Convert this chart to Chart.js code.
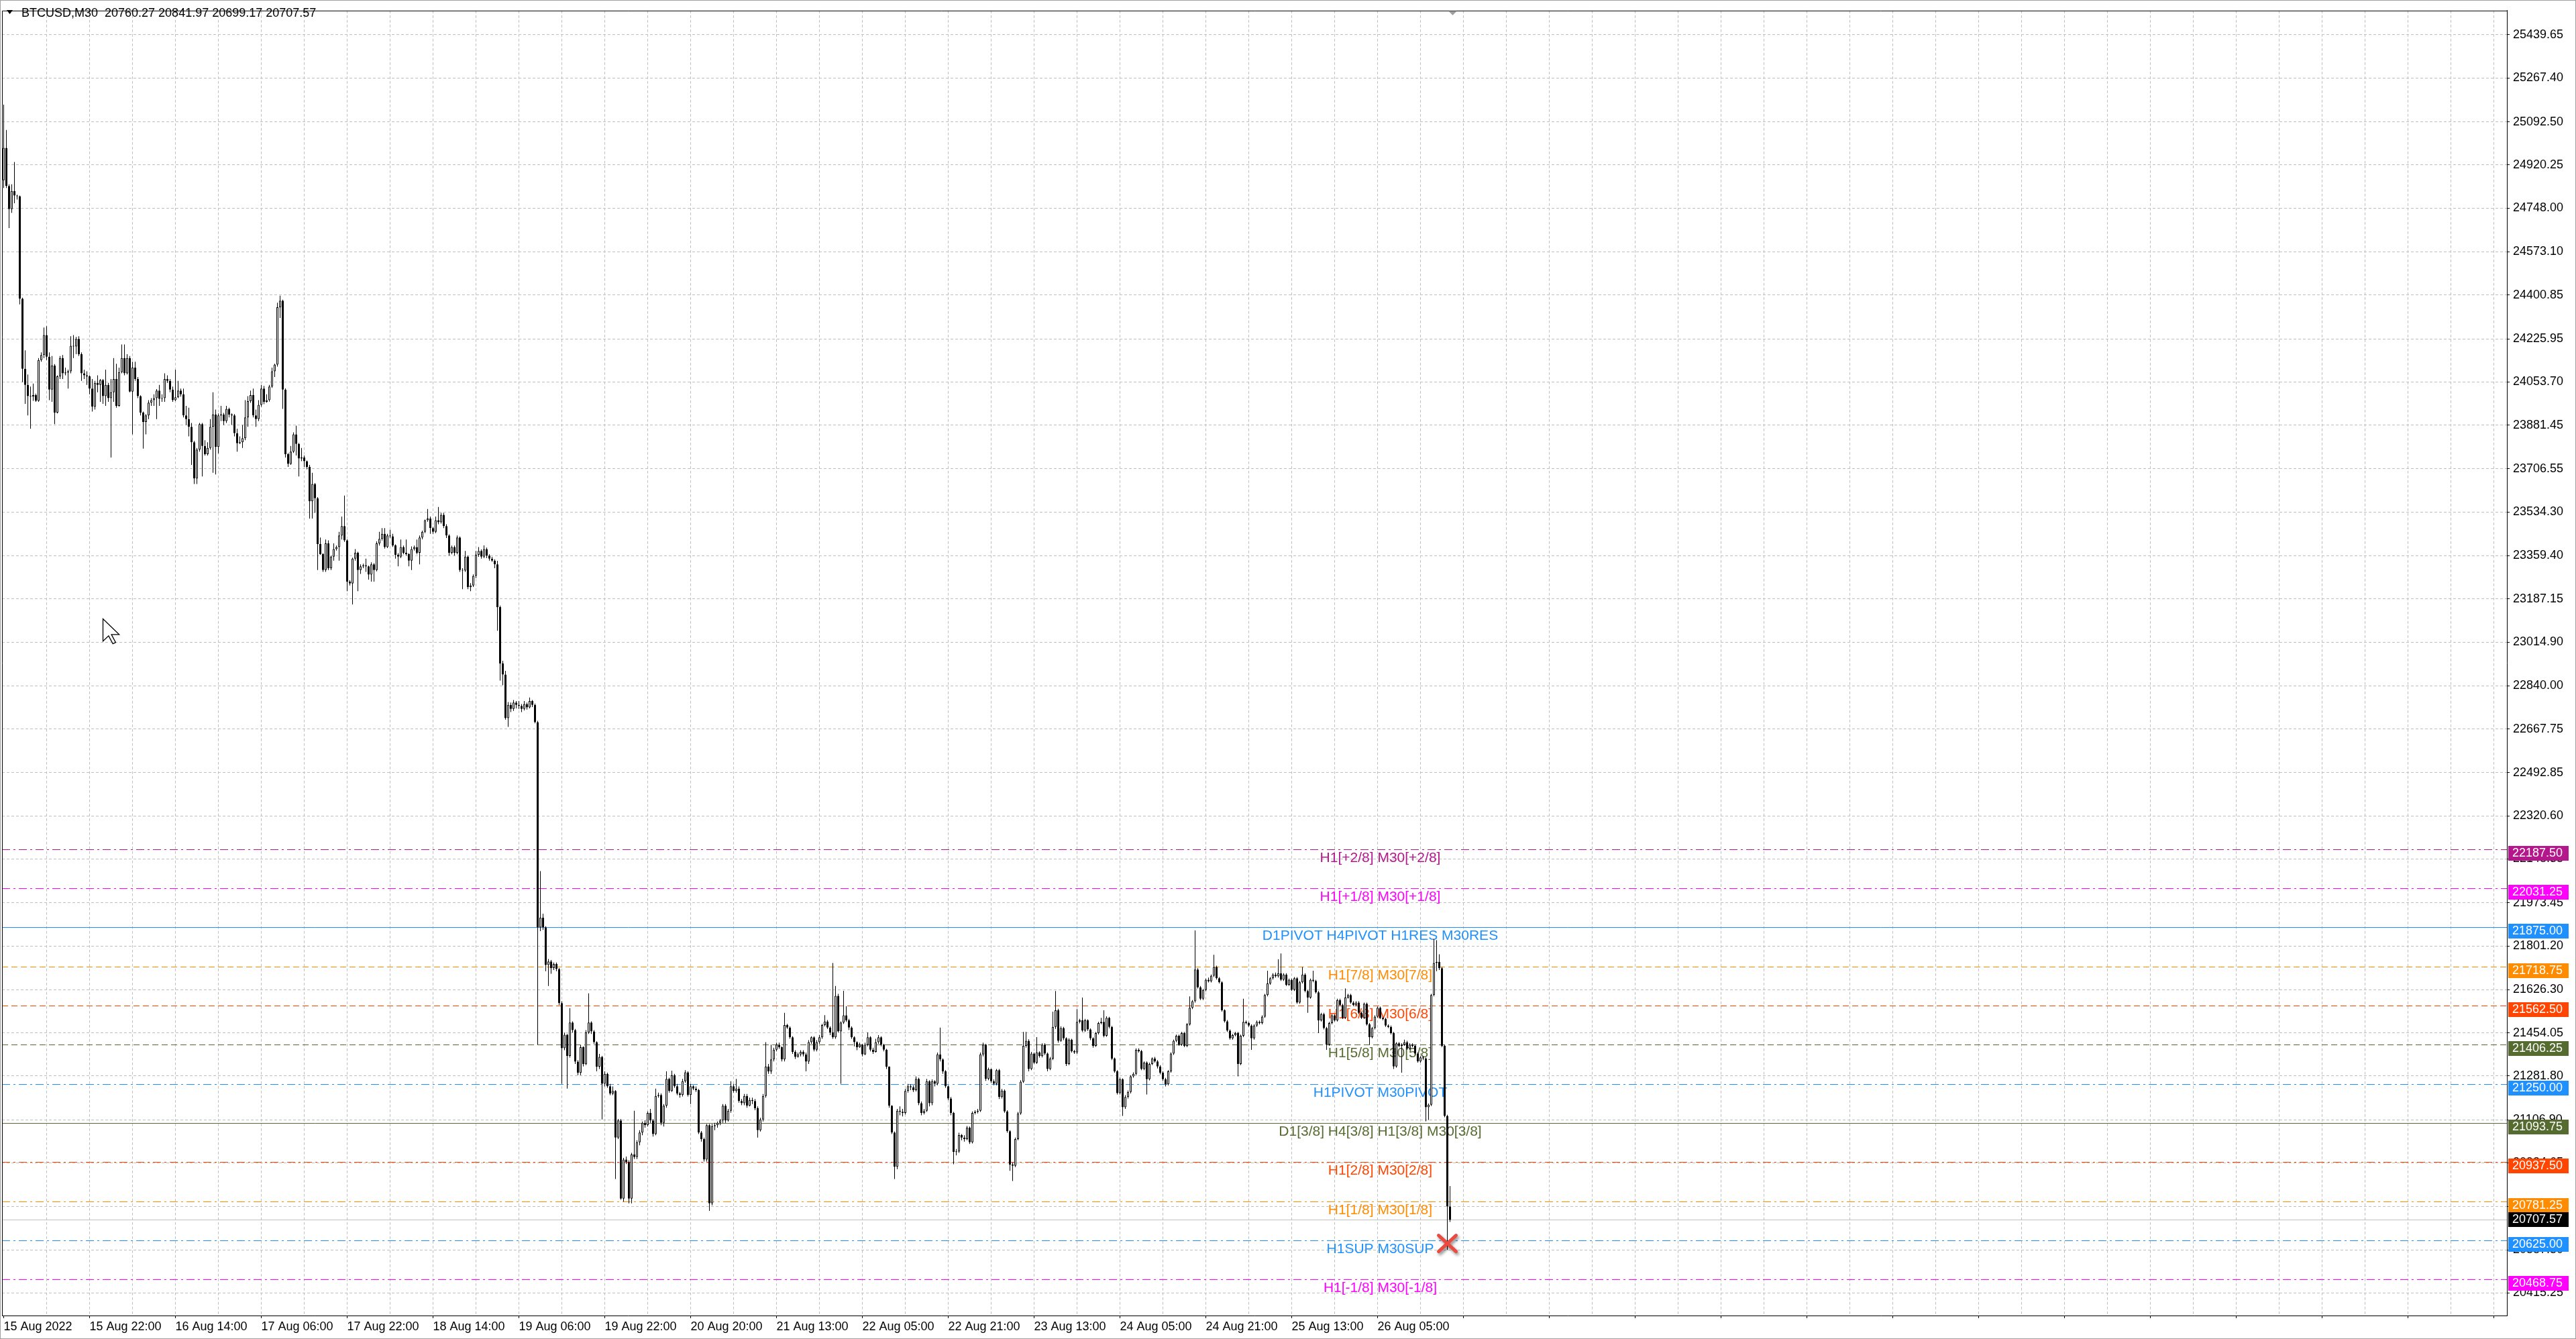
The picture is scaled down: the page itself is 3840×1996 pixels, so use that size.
<!DOCTYPE html>
<html>
<head>
<meta charset="utf-8">
<script src="https://cdn.jsdelivr.net/npm/chart.js@4.4.0/dist/chart.umd.min.js"></script>
<style>
  html, body { margin: 0; padding: 0; background: #fff; }
  canvas { display: block; }
</style>
</head>
<body>
<canvas id="chart" width="3840" height="1996" style="width:3840px;height:1996px"></canvas>
<script>
// BTCUSD M30 candles (one entry per bar)
const symbol = "BTCUSD,M30";

const opens = [
  24859,24988,24836,24744,24816,24798,24795,24386,24106,24042, // 0
  23997,23995,24001,23978,24141,24161,24241,24154,24023,24119,
  23931,24076,24149,24088,24091,24096,24198,24195,24225,24164,
  24088,24080,24076,24027,23955,24050,24042,24061,23997,24042,
  23989,24012,24065,23958,24093,24149,24088,24149,24015,24111,
  24065,23997,23931,23894,23920,23971,23981,23989,24019,23986, // 50
  23989,24065,24058,24023,23981,23992,24019,24004,23920,23905,
  23874,23813,23668,23783,23885,23798,23765,23790,23874,23923,
  23794,23920,23923,23897,23946,23923,23920,23849,23809,23813,
  23829,23912,23977,24001,23920,23905,23962,24027,23974,23981,
  24035,24096,24123,24352,24378,24023,23765,23726,23775,23844, // 100
  23806,23748,23752,23737,23714,23577,23646,23589,23406,23366,
  23302,23409,23310,23356,23386,23394,23440,23478,23421,23256,
  23249,23348,23371,23302,23317,23321,23317,23284,23325,23302,
  23409,23427,23447,23394,23440,23437,23401,23363,23356,23394,
  23371,23366,23340,23386,23394,23371,23432,23455,23501,23508, // 150
  23470,23455,23501,23493,23523,23478,23440,23371,23394,23371,
  23432,23302,23300,23356,23234,23241,23279,23363,23379,23356,
  23386,23360,23348,23340,23325,23154,22929,22885,22711,22764,
  22748,22773,22764,22760,22748,22767,22754,22779,22764,22695,
  21875,21914,21875,21725,21739,21713,21729,21709,21573,21393, // 200
  21446,21362,21495,21465,21339,21294,21397,21329,21456,21495,
  21460,21417,21319,21358,21251,21290,21241,21212,21222,21036,
  21104,20792,20948,20938,20792,20968,20958,21017,21056,21095,
  21085,21134,21104,21050,21202,21206,21095,21163,21270,21222,
  21284,21241,21212,21206,21261,21296,21206,21241,21231,21225, // 250
  21056,21030,20948,21085,20773,21081,21085,21095,21104,21163,
  21104,21143,21241,21222,21231,21182,21173,21202,21163,21186,
  21182,21153,21065,21108,21202,21319,21300,21348,21387,21407,
  21397,21348,21485,21475,21436,21378,21358,21368,21378,21368,
  21339,21417,21436,21387,21417,21436,21485,21499,21475,21456, // 300
  21436,21602,21460,21495,21524,21504,21475,21436,21417,21397,
  21407,21368,21407,21436,21387,21378,21417,21436,21407,21387,
  21319,21163,21056,20919,21143,21139,21134,21222,21241,21237,
  21225,21270,21173,21134,21143,21261,21173,21261,21251,21368,
  21348,21300,21241,21192,21134,20978,20980,21046,21036,21030, // 350
  21075,21017,21134,21139,21143,21368,21407,21270,21309,21261,
  21251,21305,21198,21223,21140,21061,20928,20923,21030,21132,
  21259,21402,21422,21310,21371,21335,21376,21361,21407,21371,
  21310,21351,21478,21544,21422,21473,21432,21330,21427,21381,
  21376,21498,21504,21463,21504,21468,21432,21402,21453,21493, // 400
  21498,21442,21514,21478,21351,21300,21213,21269,21157,21198,
  21218,21280,21290,21386,21381,21310,21335,21269,21330,21351,
  21340,21320,21295,21269,21249,21300,21371,21422,21442,21407,
  21453,21402,21488,21554,21580,21707,21636,21590,21625,21666,
  21660,21682,21717,21672,21656,21544,21500,21463,21432,21445, // 450
  21453,21330,21442,21498,21493,21483,21432,21483,21498,21493,
  21519,21605,21651,21672,21687,21680,21692,21666,21687,21646,
  21666,21626,21672,21575,21656,21687,21621,21595,21666,21661,
  21616,21504,21529,21473,21407,21493,21524,21504,21585,21565,
  21514,21595,21605,21575,21565,21575,21534,21514,21570,21488, // 500
  21437,21473,21519,21554,21514,21509,21483,21478,21453,21320,
  21412,21402,21407,21417,21391,21407,21402,21371,21340,21356,
  21352,21157,21167,21605,21733,21738,21712,21402,21122,20760.27
];

const highs = [
  25161,25060,24843,24843,24932,24801,24798,24390,24180,24083, // 0
  24035,24047,24007,24149,24172,24271,24276,24172,24157,24125,
  24080,24157,24161,24111,24103,24236,24241,24233,24236,24172,
  24103,24096,24080,24065,24058,24080,24065,24065,24103,24050,
  24065,24149,24126,24111,24203,24203,24164,24157,24134,24134,
  24073,24000,23935,23925,23981,23989,24004,24025,24042,24004, // 50
  24088,24080,24065,24035,24103,24058,24027,24027,23958,23951,
  23890,23818,23790,23890,23890,23821,23813,23905,24012,23943,
  23928,23958,23930,23958,23951,23928,23925,23867,23836,23882,
  23981,23997,24019,24027,23943,23981,24042,24038,24004,24042,
  24111,24126,24370,24398,24382,24028,23770,23798,23852,23879, // 100
  23810,23790,23760,23740,23722,23691,23650,23594,23432,23370,
  23424,23421,23360,23409,23400,23455,23516,23600,23425,23262,
  23352,23386,23375,23325,23328,23348,23320,23333,23330,23417,
  23455,23470,23470,23447,23463,23447,23405,23370,23424,23400,
  23424,23370,23397,23400,23424,23440,23460,23504,23546,23516, // 150
  23475,23516,23554,23531,23531,23485,23445,23400,23400,23440,
  23436,23310,23379,23360,23250,23285,23379,23394,23385,23401,
  23392,23365,23355,23345,23339,23160,22940,22900,22775,22773,
  22783,22779,22779,22767,22779,22773,22793,22783,22769,22700,
  22100,21930,21880,21749,21745,21735,21735,21713,21580,21455, // 200
  21450,21553,21500,21470,21345,21405,21400,21465,21612,21500,
  21465,21420,21370,21362,21300,21295,21250,21240,21225,21110,
  21110,20955,20960,20945,20975,21143,21025,21065,21100,21105,
  21140,21150,21110,21231,21215,21212,21170,21300,21275,21303,
  21290,21250,21218,21270,21305,21300,21250,21245,21240,21230, // 250
  21062,21036,21090,21090,21090,21095,21100,21110,21170,21170,
  21150,21261,21250,21270,21240,21190,21210,21210,21195,21195,
  21190,21160,21115,21210,21417,21330,21407,21395,21415,21415,
  21400,21534,21490,21480,21440,21385,21375,21385,21385,21375,
  21425,21440,21440,21425,21445,21490,21525,21505,21480,21733, // 300
  21641,21610,21500,21622,21560,21510,21480,21440,21420,21415,
  21410,21415,21456,21440,21395,21430,21445,21440,21410,21390,
  21320,21165,21060,21150,21160,21150,21230,21250,21248,21245,
  21280,21275,21180,21150,21270,21265,21268,21265,21375,21475,
  21352,21305,21245,21198,21138,20990,21055,21050,21045,21082, // 350
  21080,21140,21145,21150,21375,21415,21410,21315,21312,21268,
  21310,21310,21230,21228,21145,21065,20935,21036,21138,21265,
  21458,21458,21428,21378,21375,21437,21380,21412,21412,21375,
  21358,21539,21621,21550,21480,21478,21436,21432,21430,21386,
  21549,21510,21595,21510,21508,21472,21436,21458,21498,21514, // 400
  21544,21520,21518,21482,21355,21305,21275,21272,21205,21224,
  21285,21296,21392,21392,21386,21340,21340,21335,21356,21358,
  21345,21325,21300,21274,21305,21376,21427,21447,21447,21458,
  21458,21493,21600,21585,21863,21712,21641,21630,21671,21675,
  21687,21766,21722,21677,21660,21548,21505,21468,21450,21458, // 450
  21458,21447,21590,21503,21498,21488,21488,21503,21503,21524,
  21610,21702,21677,21692,21695,21748,21771,21692,21692,21671,
  21671,21677,21677,21661,21717,21692,21626,21671,21702,21666,
  21621,21534,21534,21478,21498,21529,21529,21590,21590,21570,
  21631,21610,21610,21580,21580,21580,21539,21575,21575,21493, // 500
  21478,21524,21559,21559,21519,21514,21488,21483,21458,21417,
  21417,21412,21427,21422,21412,21412,21407,21376,21361,21361,
  21356,21172,21610,21829,21824,21768,21717,21407,21127,20841.97
];

const lows = [
  24828,24828,24668,24729,24767,24782,24363,24053,23966,23920, // 0
  23867,23978,23974,23974,24134,24149,24141,23981,23974,23885,
  23928,24065,24065,24080,24027,24088,24149,24164,24157,24058,
  24065,24042,24004,23935,23943,24012,23974,23966,23958,23974,
  23752,23974,23951,23955,24088,24080,24083,24012,23844,24058,
  23989,23920,23787,23844,23905,23958,23958,23905,23958,23974, // 50
  23974,24050,24012,23974,23977,23989,23995,23912,23882,23836,
  23722,23646,23646,23775,23676,23760,23760,23783,23691,23684,
  23768,23897,23882,23890,23912,23882,23836,23775,23806,23790,
  23821,23874,23970,23912,23874,23897,23955,23965,23971,23975,
  24030,24073,24115,24309,23946,23752,23714,23722,23770,23760, // 100
  23676,23737,23714,23705,23508,23508,23531,23302,23363,23295,
  23295,23302,23302,23340,23380,23340,23424,23415,23218,23241,
  23165,23340,23218,23287,23310,23295,23264,23256,23256,23297,
  23400,23420,23388,23390,23430,23395,23348,23317,23350,23365,
  23360,23317,23302,23380,23365,23325,23425,23450,23495,23447, // 150
  23447,23450,23485,23488,23470,23430,23360,23365,23360,23365,
  23295,23226,23295,23226,23218,23235,23270,23355,23348,23350,
  23350,23340,23335,23310,23060,22861,22842,22705,22676,22735,
  22740,22750,22748,22735,22742,22745,22750,22755,22690,21407,
  21860,21865,21700,21641,21690,21705,21700,21565,21251,21385, // 200
  21231,21355,21455,21330,21285,21285,21320,21325,21450,21450,
  21410,21300,21310,21108,21240,21235,21205,21205,20870,21030,
  20788,20780,20930,20773,20773,20950,20950,21005,21045,21075,
  21080,21095,21040,21045,21195,21085,21080,21155,21215,21218,
  21235,21205,21195,21200,21255,21200,21170,21225,21218,21050, // 250
  21020,20940,20940,20743,20765,21065,21075,21085,21095,21095,
  21100,21135,21215,21215,21175,21165,21165,21155,21160,21170,
  21145,21036,21060,21100,21195,21290,21290,21340,21380,21390,
  21340,21340,21470,21430,21370,21350,21355,21360,21360,21300,
  21330,21410,21380,21380,21410,21430,21480,21470,21445,21430, // 300
  21430,21456,21251,21490,21498,21465,21430,21400,21385,21395,
  21360,21365,21400,21380,21370,21375,21410,21400,21380,21310,
  21155,21050,20870,20910,21125,21120,21128,21215,21225,21218,
  21220,21165,21125,21128,21138,21160,21165,21240,21245,21340,
  21290,21235,21185,21125,20929,20965,20975,21025,21020,21025, // 350
  21010,21012,21128,21132,21138,21360,21262,21265,21255,21245,
  21245,21190,21192,21135,21055,20903,20862,20918,21025,21127,
  21254,21395,21300,21305,21330,21330,21355,21356,21365,21300,
  21305,21345,21470,21415,21418,21425,21322,21325,21375,21370,
  21370,21492,21458,21458,21462,21425,21395,21398,21448,21488, // 400
  21436,21438,21472,21345,21295,21208,21208,21122,21150,21192,
  21212,21275,21285,21375,21305,21305,21208,21264,21325,21335,
  21312,21288,21262,21240,21244,21295,21366,21417,21402,21402,
  21397,21397,21483,21549,21575,21631,21585,21585,21620,21655,
  21655,21677,21667,21651,21539,21495,21458,21427,21427,21440, // 450
  21280,21325,21437,21488,21478,21386,21427,21478,21488,21488,
  21514,21600,21646,21667,21675,21675,21661,21661,21641,21641,
  21621,21621,21570,21570,21651,21616,21534,21590,21656,21611,
  21453,21499,21468,21386,21402,21488,21499,21499,21560,21509,
  21509,21590,21570,21560,21560,21529,21509,21509,21483,21407, // 500
  21432,21468,21514,21509,21504,21478,21473,21448,21310,21315,
  21397,21295,21402,21386,21386,21397,21366,21335,21335,21345,
  21101,21106,21162,21600,21700,21705,21397,21117,20587,20699.17
];

const closes = [
  24988,24836,24744,24816,24798,24795,24386,24106,24042,23997, // 0
  23995,24001,23978,24141,24161,24241,24154,24023,24119,23931,
  24076,24149,24088,24091,24096,24198,24195,24225,24164,24088,
  24080,24076,24027,23955,24050,24042,24061,23997,24042,23989,
  24012,24065,23958,24093,24149,24088,24149,24015,24111,24065,
  23997,23931,23894,23920,23971,23981,23989,24019,23986,23989, // 50
  24065,24058,24023,23981,23992,24019,24004,23920,23905,23874,
  23813,23668,23783,23885,23798,23765,23790,23874,23923,23794,
  23920,23923,23897,23946,23923,23920,23849,23809,23813,23829,
  23912,23977,24001,23920,23905,23962,24027,23974,23981,24035,
  24096,24123,24352,24378,24023,23765,23726,23775,23844,23806, // 100
  23748,23752,23737,23714,23577,23646,23589,23406,23366,23302,
  23409,23310,23356,23386,23394,23440,23478,23421,23256,23249,
  23348,23371,23302,23317,23321,23317,23284,23325,23302,23409,
  23427,23447,23394,23440,23437,23401,23363,23356,23394,23371,
  23366,23340,23386,23394,23371,23432,23455,23501,23508,23470, // 150
  23455,23501,23493,23523,23478,23440,23371,23394,23371,23432,
  23302,23300,23356,23234,23241,23279,23363,23379,23356,23386,
  23360,23348,23340,23325,23154,22929,22885,22711,22764,22748,
  22773,22764,22760,22748,22767,22754,22779,22764,22695,21875,
  21914,21875,21725,21739,21713,21729,21709,21573,21393,21446, // 200
  21362,21495,21465,21339,21294,21397,21329,21456,21495,21460,
  21417,21319,21358,21251,21290,21241,21212,21222,21036,21104,
  20792,20948,20938,20792,20968,20958,21017,21056,21095,21085,
  21134,21104,21050,21202,21206,21095,21163,21270,21222,21284,
  21241,21212,21206,21261,21296,21206,21241,21231,21225,21056, // 250
  21030,20948,21085,20773,21081,21085,21095,21104,21163,21104,
  21143,21241,21222,21231,21182,21173,21202,21163,21186,21182,
  21153,21065,21108,21202,21319,21300,21348,21387,21407,21397,
  21348,21485,21475,21436,21378,21358,21368,21378,21368,21339,
  21417,21436,21387,21417,21436,21485,21499,21475,21456,21436, // 300
  21602,21460,21495,21524,21504,21475,21436,21417,21397,21407,
  21368,21407,21436,21387,21378,21417,21436,21407,21387,21319,
  21163,21056,20919,21143,21139,21134,21222,21241,21237,21225,
  21270,21173,21134,21143,21261,21173,21261,21251,21368,21348,
  21300,21241,21192,21134,20978,20980,21046,21036,21030,21075, // 350
  21017,21134,21139,21143,21368,21407,21270,21309,21261,21251,
  21305,21198,21223,21140,21061,20928,20923,21030,21132,21259,
  21402,21422,21310,21371,21335,21376,21361,21407,21371,21310,
  21351,21478,21544,21422,21473,21432,21330,21427,21381,21376,
  21498,21504,21463,21504,21468,21432,21402,21453,21493,21498, // 400
  21442,21514,21478,21351,21300,21213,21269,21157,21198,21218,
  21280,21290,21386,21381,21310,21335,21269,21330,21351,21340,
  21320,21295,21269,21249,21300,21371,21422,21442,21407,21453,
  21402,21488,21554,21580,21707,21636,21590,21625,21666,21660,
  21682,21717,21672,21656,21544,21500,21463,21432,21445,21453, // 450
  21330,21442,21498,21493,21483,21432,21483,21498,21493,21519,
  21605,21651,21672,21687,21680,21692,21666,21687,21646,21666,
  21626,21672,21575,21656,21687,21621,21595,21666,21661,21616,
  21504,21529,21473,21407,21493,21524,21504,21585,21565,21514,
  21595,21605,21575,21565,21575,21534,21514,21570,21488,21437, // 500
  21473,21519,21554,21514,21509,21483,21478,21453,21320,21412,
  21402,21407,21417,21391,21407,21402,21371,21340,21356,21352,
  21157,21167,21605,21733,21738,21712,21402,21122,20760.27,20707.57
];

// price scale labels on the right
const priceTicks = [
  25439.65, 25267.40, 25092.50, 24920.25, 24748.00, 24573.10, 24400.85, 24225.95,
  24053.70, 23881.45, 23706.55, 23534.30, 23359.40, 23187.15, 23014.90, 22840.00,
  22667.75, 22492.85, 22320.60, 22148.35, 21973.45, 21801.20, 21626.30, 21454.05,
  21281.80, 21106.90, 20934.65, 20759.75, 20587.50, 20415.25
];

// time labels, one every 32 bars
const timeLabels = [
  "15 Aug 2022", "15 Aug 22:00", "16 Aug 14:00", "17 Aug 06:00", "17 Aug 22:00",
  "18 Aug 14:00", "19 Aug 06:00", "19 Aug 22:00", "20 Aug 20:00", "21 Aug 13:00",
  "22 Aug 05:00", "22 Aug 21:00", "23 Aug 13:00", "24 Aug 05:00", "24 Aug 21:00",
  "25 Aug 13:00", "26 Aug 05:00"
];

// Murrey / pivot levels
const levelPrices = [22187.50, 22031.25, 21875.00, 21718.75, 21562.50, 21406.25,
                     21250.00, 21093.75, 20937.50, 20781.25, 20625.00, 20468.75];
const levelNames = [
  "H1[+2/8] M30[+2/8]", "H1[+1/8] M30[+1/8]", "D1PIVOT H4PIVOT H1RES M30RES",
  "H1[7/8] M30[7/8]", "H1[6/8] M30[6/8]", "H1[5/8] M30[5/8]", "H1PIVOT M30PIVOT",
  "D1[3/8] H4[3/8] H1[3/8] M30[3/8]", "H1[2/8] M30[2/8]", "H1[1/8] M30[1/8]",
  "H1SUP M30SUP", "H1[-1/8] M30[-1/8]"
];
const closedTradePrice = 20613;

// styling of the levels (colour, line style)
const levelLook = [
  ["#b5168c", "dashdot"], ["#ff00ff", "dashdot"], ["#1e90ff", "solid"],
  ["#ff8c00", "dash"], ["#ff4500", "dash"], ["#556b2f", "dash"],
  ["#1e90ff", "dashdot"], ["#556b2f", "solid"], ["#ff4500", "dashdot"],
  ["#ff8c00", "dashdot"], ["#1e90ff", "dashdot"], ["#ff00ff", "dashdot"]
];

const last = closes.length - 1;
const FONT = '"Liberation Sans", Arial, sans-serif';

function dashFor(kind) {
  if (kind === "dash") return [9, 5];
  if (kind === "dashdot") return [12, 5, 3, 5];
  return [];
}

const wickData = closes.map((c, i) => ({ x: i, y: [lows[i], highs[i]] }));
const bodyData = closes.map((c, i) => ({ x: i, y: [opens[i], c] }));
const bodyFill = closes.map((c, i) => (c >= opens[i] ? "#ffffff" : "#000000"));

const overlay = {
  id: "overlay",
  beforeDraw(chart) {
    const ctx = chart.ctx;
    ctx.save();
    ctx.fillStyle = "#ffffff";
    ctx.fillRect(0, 0, chart.width, chart.height);
    ctx.restore();
  },
  beforeDatasetsDraw(chart) {
    const { ctx, chartArea: a, scales: { x, y } } = chart;
    ctx.save();
    ctx.beginPath();
    ctx.rect(a.left, a.top, a.right - a.left, a.bottom - a.top);
    ctx.clip();
    ctx.lineWidth = 1;

    levelPrices.forEach((p, k) => {
      const py = Math.round(y.getPixelForValue(p)) + 0.5;
      ctx.strokeStyle = levelLook[k][0];
      ctx.setLineDash(dashFor(levelLook[k][1]));
      ctx.beginPath();
      ctx.moveTo(a.left, py);
      ctx.lineTo(a.right, py);
      ctx.stroke();
    });

    // bid line
    const by = Math.round(y.getPixelForValue(closes[last])) + 0.5;
    ctx.setLineDash([]);
    ctx.strokeStyle = "#c0c0c0";
    ctx.beginPath();
    ctx.moveTo(a.left, by);
    ctx.lineTo(a.right, by);
    ctx.stroke();

    // level captions
    ctx.font = "21px " + FONT;
    ctx.textAlign = "center";
    ctx.textBaseline = "alphabetic";
    const cx = x.getPixelForValue(513);
    levelPrices.forEach((p, k) => {
      const py = Math.round(y.getPixelForValue(p));
      ctx.fillStyle = levelLook[k][0];
      ctx.fillText(levelNames[k], cx, py + 19);
    });
    ctx.restore();

    // top and left frame of the plot
    ctx.save();
    ctx.strokeStyle = "#000";
    ctx.lineWidth = 1;
    ctx.beginPath();
    ctx.moveTo(a.left + 0.5, a.bottom);
    ctx.lineTo(a.left + 0.5, a.top + 0.5);
    ctx.lineTo(a.right, a.top + 0.5);
    ctx.stroke();
    ctx.restore();
  },
  afterDraw(chart) {
    const { ctx, chartArea: a, scales: { x, y } } = chart;
    ctx.save();

    // price tags on the right scale
    ctx.font = "18px " + FONT;
    ctx.textAlign = "left";
    ctx.textBaseline = "middle";
    const tag = (price, color, shift) => {
      const py = Math.round(y.getPixelForValue(price)) + shift;
      ctx.fillStyle = color;
      ctx.fillRect(a.right + 2, py - 11, 90, 22);
      ctx.fillStyle = "#ffffff";
      ctx.fillText(price.toFixed(2), a.right + 8, py + 0.5);
    };
    levelPrices.forEach((p, k) => tag(p, levelLook[k][0], 6));
    tag(closes[last], "#000000", 0);

    // header
    ctx.fillStyle = "#000";
    ctx.beginPath();
    ctx.moveTo(10, 15); ctx.lineTo(19, 15); ctx.lineTo(14.5, 21); ctx.closePath();
    ctx.fill();
    ctx.textBaseline = "alphabetic";
    ctx.font = "18px " + FONT;
    const head = symbol + "  " + [opens[last], highs[last], lows[last], closes[last]]
      .map(v => v.toFixed(2)).join(" ");
    ctx.fillText(head, 32, 25);

    // chart shift marker
    const sx = x.getPixelForValue(last + 1);
    ctx.fillStyle = "#a0a0a0";
    ctx.beginPath();
    ctx.moveTo(sx - 6, a.top + 1); ctx.lineTo(sx + 6, a.top + 1); ctx.lineTo(sx, a.top + 7);
    ctx.closePath();
    ctx.fill();

    // closed trade cross
    const tx = x.getPixelForValue(last - 1), ty = y.getPixelForValue(closedTradePrice);
    ctx.save();
    ctx.shadowColor = "rgba(0,0,0,0.45)";
    ctx.shadowBlur = 4;
    ctx.shadowOffsetX = 2;
    ctx.shadowOffsetY = 3;
    ctx.strokeStyle = "#ea4a3f";
    ctx.lineWidth = 5;
    ctx.lineCap = "round";
    ctx.beginPath();
    ctx.moveTo(tx - 13, ty - 12); ctx.lineTo(tx + 13, ty + 12);
    ctx.moveTo(tx + 13, ty - 12); ctx.lineTo(tx - 13, ty + 12);
    ctx.stroke();
    ctx.restore();

    // mouse pointer
    const pts = [[0, 0], [0, 17], [4, 13], [7, 19], [9, 18], [6, 12], [11.5, 12]];
    ctx.save();
    ctx.translate(153.5, 922.5);
    ctx.beginPath();
    pts.forEach(([px, py], i) => (i ? ctx.lineTo(px * 2.1, py * 1.95) : ctx.moveTo(px * 2.1, py * 1.95)));
    ctx.closePath();
    ctx.fillStyle = "#fff";
    ctx.fill();
    ctx.strokeStyle = "#000";
    ctx.lineWidth = 1.3;
    ctx.stroke();
    ctx.restore();

    // window frame
    ctx.strokeStyle = "#a0a0a0";
    ctx.lineWidth = 1;
    ctx.strokeRect(0.5, 0.5, chart.width - 1, chart.height - 1);
    ctx.restore();
  }
};

Chart.defaults.font.family = FONT;
Chart.defaults.font.size = 18;
Chart.defaults.color = "#000";

new Chart(document.getElementById("chart"), {
  type: "bar",
  data: {
    datasets: [
      {
        label: "body",
        data: bodyData,
        backgroundColor: bodyFill,
        borderColor: "#000000",
        borderWidth: 1,
        borderSkipped: false,
        barThickness: 3,
        minBarLength: 1,
        inflateAmount: 0,
        grouped: false,
        order: 1
      },
      {
        label: "wick",
        data: wickData,
        backgroundColor: "#000000",
        borderWidth: 0,
        barThickness: 1,
        inflateAmount: 0,
        grouped: false,
        order: 2
      }
    ]
  },
  options: {
    responsive: false,
    devicePixelRatio: 1,
    animation: false,
    events: [],
    layout: { padding: { left: 3, top: 4, right: 0, bottom: 0 } },
    plugins: { legend: { display: false }, tooltip: { enabled: false } },
    scales: {
      x: {
        type: "linear",
        min: -0.625,
        max: 932.875,
        offset: false,
        afterBuildTicks: axis => {
          const t = [];
          for (let v = 0; v <= 928; v += 16) t.push({ value: v });
          axis.ticks = t;
        },
        afterFit: axis => { axis.height = 35; },
        grid: {
          offset: false,
          color: c => (c.tick && c.tick.value === 0 ? "rgba(0,0,0,0)" : "#c0c0c0"),
          tickColor: c => (c.tick && c.tick.value % 32 === 0 ? "#000" : "rgba(0,0,0,0)"),
          tickLength: 4,
          lineWidth: 1
        },
        border: { color: "#000", width: 1, dash: [4, 3] },
        ticks: {
          autoSkip: false,
          maxRotation: 0,
          minRotation: 0,
          align: "start",
          padding: 2,
          font: { size: 18 },
          callback: v => (v % 32 === 0 ? (timeLabels[v / 32] || "") : "")
        }
      },
      y: {
        type: "linear",
        position: "right",
        min: 20325.1,
        max: 25536.6,
        afterBuildTicks: axis => { axis.ticks = priceTicks.map(v => ({ value: v })); },
        afterFit: axis => { axis.width = 103; },
        grid: { color: "#c0c0c0", tickColor: "#000", tickLength: 4, lineWidth: 1 },
        border: { color: "#000", width: 1, dash: [4, 3] },
        ticks: {
          autoSkip: false,
          padding: 5,
          font: { size: 18 },
          callback: v => Number(v).toFixed(2)
        }
      }
    }
  },
  plugins: [overlay]
});
</script>
</body>
</html>
